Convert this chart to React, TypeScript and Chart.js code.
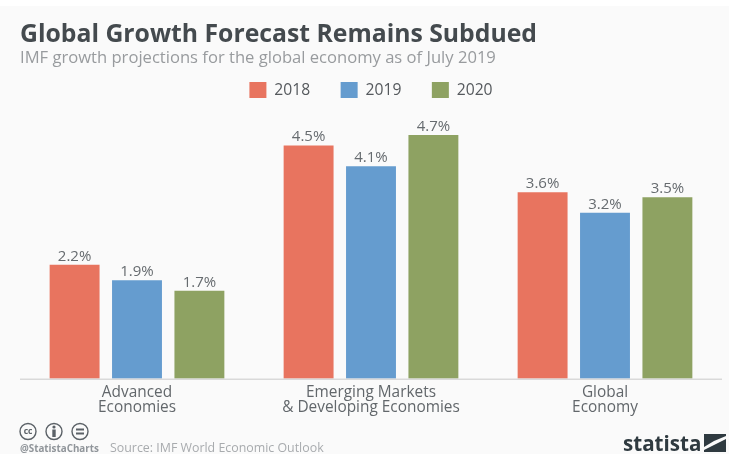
import React, { useEffect, useRef } from "react";
import { Chart, registerables } from "chart.js";

Chart.register(...registerables);

const categories = [["Advanced", "Economies"], ["Emerging Markets", "& Developing Economies"], ["Global", "Economy"]];
const values2018 = [2.2, 4.5, 3.6];
const values2019 = [1.9, 4.1, 3.2];
const values2020 = [1.7, 4.7, 3.5];
const titleText = "Global Growth Forecast Remains Subdued";
const subtitleText = "IMF growth projections for the global economy as of July 2019";
const handleText = "@StatistaCharts";
const sourceText = "Source: IMF World Economic Outlook";
const logoText = "statista";
const FONT = '"Open Sans", sans-serif';

const decorations = {
  id: "decorations",
  afterDatasetsDraw(chart: any) {
    const { ctx } = chart;
    ctx.save();
    // value labels
    ctx.font = `15px ${FONT}`;
    ctx.fillStyle = "#666b6f";
    ctx.textAlign = "center";
    ctx.textBaseline = "alphabetic";
    chart.data.datasets.forEach((ds: any, i: number) => {
      chart.getDatasetMeta(i).data.forEach((bar: any, j: number) => {
        ctx.fillText(ds.data[j].toFixed(1) + "%", bar.x, bar.y - 4);
      });
    });
    // baseline
    ctx.strokeStyle = "#d9d9d9";
    ctx.lineWidth = 1.5;
    ctx.beginPath();
    ctx.moveTo(chart.chartArea.left, chart.chartArea.bottom + 0.5);
    ctx.lineTo(chart.chartArea.right, chart.chartArea.bottom + 0.5);
    ctx.stroke();
    // licence icons
    ctx.strokeStyle = "#5b6167";
    ctx.fillStyle = "#5b6167";
    ctx.lineWidth = 1.4;
    [28, 54, 80].forEach((x, k) => {
      ctx.beginPath();
      ctx.arc(x, 431.5, 8, 0, Math.PI * 2);
      ctx.stroke();
      if (k === 0) {
        ctx.font = `bold 8.5px ${FONT}`;
        ctx.textAlign = "center";
        ctx.fillText("cc", x, 434);
      } else if (k === 1) {
        ctx.beginPath();
        ctx.arc(x, 427, 1.6, 0, Math.PI * 2);
        ctx.fill();
        ctx.fillRect(x - 1.7, 429.5, 3.4, 7.5);
      } else {
        ctx.fillRect(x - 4, 428.5, 8, 2);
        ctx.fillRect(x - 4, 432.5, 8, 2);
      }
    });
    // footer
    ctx.textAlign = "left";
    ctx.fillStyle = "#90959a";
    ctx.font = `bold 9.8px ${FONT}`;
    ctx.fillText(handleText, 20, 452);
    ctx.fillStyle = "#a8abae";
    ctx.font = `12.4px ${FONT}`;
    ctx.fillText(sourceText, 110, 452);
    // logo
    ctx.fillStyle = "#2f3a40";
    ctx.font = `bold 21px ${FONT}`;
    ctx.save();
    ctx.translate(623, 451);
    ctx.scale(0.98, 1);
    ctx.fillText(logoText, 0, 0);
    ctx.restore();
    ctx.beginPath();
    ctx.moveTo(704, 434); ctx.lineTo(726, 434); ctx.lineTo(726, 436);
    ctx.lineTo(714, 441); ctx.lineTo(704, 447); ctx.closePath();
    ctx.fill();
    ctx.beginPath();
    ctx.moveTo(726, 439); ctx.lineTo(726, 452); ctx.lineTo(704, 452); ctx.lineTo(704, 450);
    ctx.lineTo(716, 444); ctx.closePath();
    ctx.fill();
    ctx.restore();
  },
};

export default function App() {
  const ref = useRef<HTMLCanvasElement>(null);
  useEffect(() => {
    const chart = new Chart(ref.current!, {
      type: "bar",
      data: {
        labels: categories as any,
        datasets: [
          { label: "2018", data: values2018, backgroundColor: "#e8745f" },
          { label: "2019", data: values2019, backgroundColor: "#659ccf" },
          { label: "2020", data: values2020, backgroundColor: "#8ea262" },
        ],
      },
      options: {
        animation: false,
        responsive: false,
        devicePixelRatio: 1,
        datasets: { bar: { categoryPercentage: 0.8, barPercentage: 0.8 } },
        layout: { padding: { left: 20, right: 7, top: 16, bottom: 33 } },
        plugins: {
          tooltip: { enabled: false },
          title: {
            display: true, text: titleText, align: "start", color: "#444a4e",
            font: { family: FONT, size: 24.75, weight: "bold" }, padding: { top: 4, bottom: 0 },
          },
          subtitle: {
            display: true, text: subtitleText, align: "start", color: "#989b9e",
            font: { family: FONT, size: 16.6 }, padding: { top: -1, bottom: -17 },
          },
          legend: {
            display: true, position: "top", align: "center",
            labels: { boxWidth: 17, boxHeight: 16, color: "#55595d", padding: 30.5, font: { family: FONT, size: 15.7 } },
          },
        },
        scales: {
          x: {
            grid: { display: false, drawTicks: false }, border: { display: false },
            ticks: { color: "#62676b", font: { family: FONT, size: 15.4, lineHeight: 0.98 }, maxRotation: 0, autoSkip: false, padding: 6 },
          },
          y: { display: false, min: 0, max: 5.22 },
        },
      },
      plugins: [decorations],
    } as any);
    return () => chart.destroy();
  }, []);
  return (
    <div style={{ position: "absolute", left: 0, top: 0, width: 729, height: 454, background: "linear-gradient(#fff 6px, #fafafa 6px)", overflow: "hidden" }}>
      <canvas ref={ref} width={729} height={454} style={{ display: "block", filter: "blur(0.7px)" }} />
    </div>
  );
}
